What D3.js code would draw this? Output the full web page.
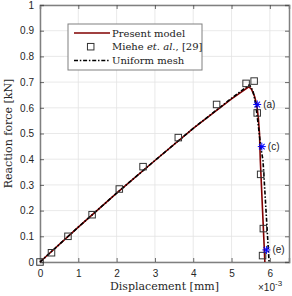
<!DOCTYPE html>
<html>
<head>
<meta charset="utf-8">
<script src="https://cdn.jsdelivr.net/npm/d3@7"></script>
<style>
  body { margin: 0; background: #fff; }
  svg { display: block; }
  .tick text { font-family: "Liberation Sans", Arial, sans-serif; font-size: 10px; fill: #262626; }
  .serif { font-family: "DejaVu Serif", serif; }
</style>
</head>
<body>
<svg id="chart" width="292" height="296"></svg>
<script>
// displacement in 1e-3 mm, force in kN
const presentX = [0, 1, 2, 3, 4, 5, 5.45, 5.52, 5.6, 5.66, 5.7, 5.73, 5.75, 5.78, 5.81, 5.84, 5.87];
const presentY = [0, 0.136, 0.268, 0.395, 0.52, 0.635, 0.682, 0.672, 0.645, 0.61, 0.56, 0.5, 0.4, 0.3, 0.2, 0.1, 0];

const uniformX = [0, 1, 2, 3, 4, 5, 5.47, 5.56, 5.63, 5.7, 5.76, 5.82, 5.86, 5.9, 5.94, 5.98];
const uniformY = [0, 0.136, 0.268, 0.395, 0.52, 0.637, 0.69, 0.665, 0.615, 0.53, 0.45, 0.396, 0.3, 0.2, 0.1, 0];

const mieheX = [0, 0.3, 0.73, 1.36, 2.07, 2.69, 3.61, 4.61, 5.38, 5.59, 5.67, 5.76, 5.83, 5.81];
const mieheY = [0, 0.036, 0.1, 0.184, 0.284, 0.371, 0.484, 0.613, 0.695, 0.704, 0.58, 0.341, 0.13, 0.025];

const starX = [5.67, 5.79, 5.91];
const starY = [0.613, 0.449, 0.047];
const starLabels = ["(a)", "(c)", "(e)"];

const xTicks = [0, 1, 2, 3, 4, 5, 6];
const yTicks = [0, 0.1, 0.2, 0.3, 0.4, 0.5, 0.6, 0.7, 0.8, 0.9, 1];

const legendLabels = ["Present model", "Miehe", "Uniform mesh"];

const margin = {top: 5, right: 3, bottom: 34, left: 40};
const W = 292, H = 296;
const w = W - margin.left - margin.right;
const h = H - margin.top - margin.bottom;

const svg = d3.select("#chart");
const g = svg.append("g").attr("transform", `translate(${margin.left},${margin.top})`);

const x = d3.scaleLinear().domain([0, 6.5]).range([0, w]);
const y = d3.scaleLinear().domain([0, 1]).range([h, 0]);

// grid
g.append("g").selectAll("line").data(xTicks).join("line")
  .attr("x1", d => x(d)).attr("x2", d => x(d)).attr("y1", 0).attr("y2", h)
  .attr("stroke", "#e3e3e3").attr("stroke-width", 0.8);
g.append("g").selectAll("line").data(yTicks).join("line")
  .attr("y1", d => y(d)).attr("y2", d => y(d)).attr("x1", 0).attr("x2", w)
  .attr("stroke", "#e3e3e3").attr("stroke-width", 0.8);

// axes (ticks inward)
const axColor = "#808080";
const xAxis = g.append("g").attr("transform", `translate(0,${h})`)
  .call(d3.axisBottom(x).tickValues(xTicks).tickSize(-4).tickPadding(8).tickFormat(d3.format("d")));
const xTop = g.append("g")
  .call(d3.axisTop(x).tickValues(xTicks).tickSize(-4).tickFormat(""));
const yAxis = g.append("g")
  .call(d3.axisLeft(y).tickValues(yTicks).tickSize(-4).tickPadding(6).tickFormat(d => d === 0 || d === 1 ? d3.format("d")(d) : d3.format(".1f")(d)));
const yRight = g.append("g").attr("transform", `translate(${w},0)`)
  .call(d3.axisRight(y).tickValues(yTicks).tickSize(-4).tickFormat(""));
[xAxis, xTop, yAxis, yRight].forEach(a => {
  a.select(".domain").attr("stroke", axColor).attr("stroke-width", 1.5);
  a.selectAll(".tick line").attr("stroke", "#444").attr("stroke-width", 0.8);
});

// curves
const line = d3.line().x(d => x(d[0])).y(d => y(d[1]));
const present = presentX.map((v, i) => [v, presentY[i]]);
const uniform = uniformX.map((v, i) => [v, uniformY[i]]);

g.append("path").datum(present).attr("d", line)
  .attr("fill", "none").attr("stroke", "#800000").attr("stroke-width", 1.6);
g.append("path").datum(uniform).attr("d", line)
  .attr("fill", "none").attr("stroke", "#000").attr("stroke-width", 1.6)
  .attr("stroke-dasharray", "4,1.8,1.5,1.8");

// Miehe squares
const sq = 6.5;
g.append("g").selectAll("rect").data(mieheX.map((v, i) => [v, mieheY[i]])).join("rect")
  .attr("x", d => x(d[0]) - sq / 2).attr("y", d => y(d[1]) - sq / 2)
  .attr("width", sq).attr("height", sq)
  .attr("fill", "none").attr("stroke", "#333").attr("stroke-width", 1);

// stars
const stars = starX.map((v, i) => [v, starY[i], starLabels[i]]);
const starG = g.append("g").selectAll("g").data(stars).join("g")
  .attr("transform", d => `translate(${x(d[0])},${y(d[1])})`);
[0, 45, 90, 135].forEach(a => {
  starG.append("line").attr("x1", -4).attr("x2", 4).attr("y1", 0).attr("y2", 0)
    .attr("transform", `rotate(${a})`).attr("stroke", "#0000ff").attr("stroke-width", 1);
});
starG.append("text").attr("x", 6).attr("y", 3.5).text(d => d[2])
  .attr("font-family", "Liberation Sans, Arial, sans-serif").attr("font-size", 10).attr("fill", "#222");

// axis titles
svg.append("text").attr("class", "serif")
  .attr("x", margin.left + w / 2).attr("y", 290).attr("text-anchor", "middle")
  .attr("font-size", 11).attr("fill", "#262626").text("Displacement [mm]");
svg.append("text").attr("class", "serif")
  .attr("transform", `translate(12,${margin.top + h / 2}) rotate(-90)`).attr("text-anchor", "middle")
  .attr("font-size", 11).attr("fill", "#262626").text("Reaction force [kN]");

// exponent
const ex = svg.append("text").attr("x", 258).attr("y", 291)
  .attr("font-family", "Liberation Sans, Arial, sans-serif").attr("font-size", 10).attr("fill", "#262626");
ex.append("tspan").text("\u00d710");
ex.append("tspan").attr("dy", -5).attr("font-size", 8).text("-3");

// legend
const lg = svg.append("g").attr("transform", "translate(68,24)");
lg.append("rect").attr("width", 134).attr("height", 46)
  .attr("fill", "#fff").attr("stroke", "#808080").attr("stroke-width", 1);
const rowY = [9, 22.7, 36.5];
lg.append("line").attr("x1", 6).attr("x2", 42).attr("y1", rowY[0]).attr("y2", rowY[0])
  .attr("stroke", "#800000").attr("stroke-width", 1.6);
lg.append("rect").attr("x", 22.7 - sq / 2).attr("y", rowY[1] - sq / 2).attr("width", sq).attr("height", sq)
  .attr("fill", "none").attr("stroke", "#333");
lg.append("line").attr("x1", 6).attr("x2", 42).attr("y1", rowY[2]).attr("y2", rowY[2])
  .attr("stroke", "#000").attr("stroke-width", 1.6).attr("stroke-dasharray", "4,1.8,1.5,1.8");
const lt = lg.selectAll("text").data(legendLabels).join("text").attr("class", "serif")
  .attr("x", 44).attr("y", (d, i) => rowY[i] + 3.5)
  .attr("font-size", 10).attr("fill", "#222").text(d => d);
const mt = lt.filter((d, i) => i === 1);
mt.append("tspan").text(" ");
mt.append("tspan").attr("font-style", "italic").text("et. al.");
mt.append("tspan").text(", [29]");
</script>
</body>
</html>
